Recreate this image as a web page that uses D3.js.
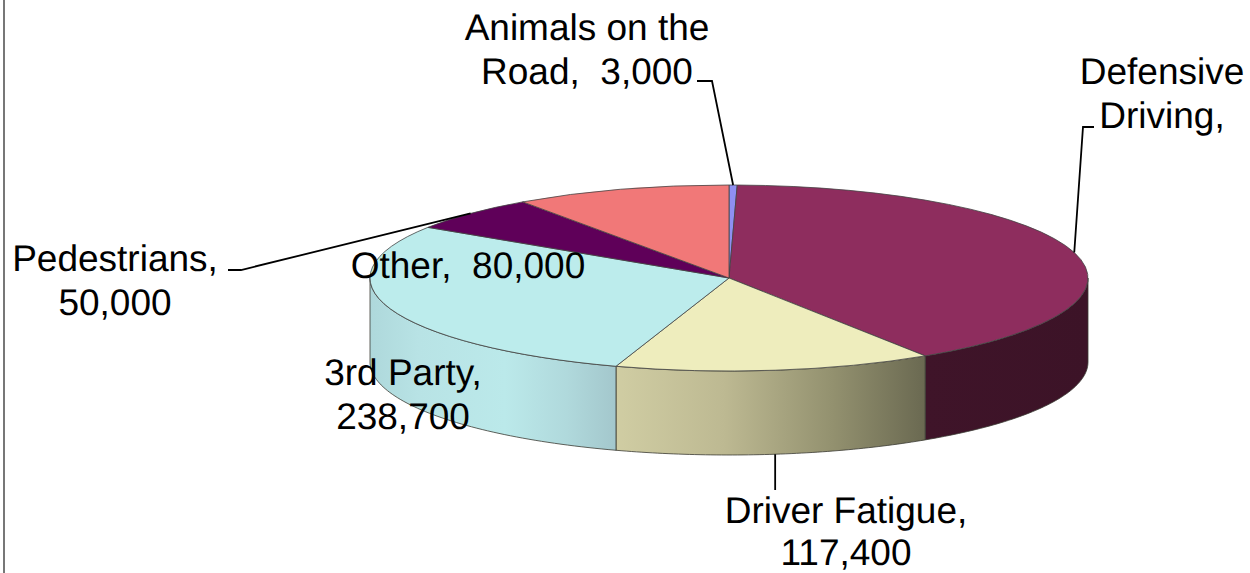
<!DOCTYPE html>
<html>
<head>
<meta charset="utf-8">
<script src="https://cdn.jsdelivr.net/npm/d3@7"></script>
<style>
html,body{margin:0;padding:0;background:#fff;overflow:hidden}
text{font-family:"Liberation Sans",Arial,sans-serif;font-size:37px;fill:#000;white-space:pre;text-rendering:geometricPrecision}
</style>
</head>
<body>
<div id="chart"></div>
<script>
// slices, clockwise from 12 o'clock
var categories = ['Animals on the Road', 'Defensive Driving', 'Driver Fatigue', '3rd Party', 'Pedestrians', 'Other'];
// Defensive Driving value is cut off in the picture, estimated from its angle
var values = [3000, 332000, 117400, 238700, 50000, 80000];
var labelLines = [
    ['Animals on the', 'Road,  3,000'],
    ['Defensive', 'Driving,'],
    ['Driver Fatigue,', '117,400'],
    ['3rd Party,', '238,700'],
    ['Pedestrians,', '50,000'],
    ['Other,  80,000']
];
var topColors = ['#8f8ff2', '#8e2d5e', '#eeedbd', '#bcecec', '#5f0059', '#f17878'];

var w = 1250, h = 573;
var cx = 729, cy = 278, rx = 359, ry = 93, depth = 84;

var svg = d3.select('#chart').append('svg').attr('width', w).attr('height', h).style('display', 'block');
var defs = svg.append('defs');

// wall gradients, left to right
var wallStops = {
    'Defensive Driving': [[0, '#3f1429'], [1, '#3c1327']],
    'Driver Fatigue': [[0, '#d0cda3'], [0.35, '#bdb992'], [0.7, '#93916f'], [1, '#6a6951']],
    '3rd Party': [[0, '#aed8db'], [0.2, '#b8e3e5'], [0.55, '#bbe9ea'], [0.8, '#b0d9dc'], [1, '#a3c7cc']]
};

// left page edge
svg.append('line').attr('x1', 4).attr('y1', 0).attr('x2', 4).attr('y2', h)
    .attr('stroke', '#777').attr('stroke-width', 2);

var pie = d3.pie().sort(null).value(function (d) { return d; });
var slices = pie(values);

function px(a) { return cx + rx * Math.sin(a); }
function py(a) { return cy - ry * Math.cos(a); }

// walls, only the front half of the rim shows
var wallArea = d3.area()
    .x(function (a) { return px(a); })
    .y0(function (a) { return py(a); })
    .y1(function (a) { return py(a) + depth; });

slices.forEach(function (s, i) {
    var a0 = Math.max(s.startAngle, Math.PI / 2);
    var a1 = Math.min(s.endAngle, Math.PI * 1.5);
    if (a1 <= a0) return;
    var n = 60;
    var angles = d3.range(n + 1).map(function (k) { return a0 + (a1 - a0) * k / n; });
    var xs = d3.extent(angles, px);
    var id = 'wall' + i;
    var g = defs.append('linearGradient').attr('id', id)
        .attr('gradientUnits', 'userSpaceOnUse')
        .attr('x1', xs[0]).attr('y1', 0).attr('x2', xs[1]).attr('y2', 0);
    wallStops[categories[i]].forEach(function (st) {
        g.append('stop').attr('offset', st[0]).attr('stop-color', st[1]);
    });
    svg.append('path')
        .attr('d', wallArea(angles))
        .attr('fill', 'url(#' + id + ')')
        .attr('stroke', '#3a3a32')
        .attr('stroke-width', 0.8)
        .attr('stroke-linejoin', 'round');
});

// top face, a flat arc squashed into an ellipse
var arc = d3.arc().innerRadius(0).outerRadius(rx);
svg.append('g')
    .attr('transform', 'translate(' + cx + ',' + cy + ') scale(1,' + (ry / rx) + ')')
    .selectAll('path')
    .data(slices)
    .enter()
    .append('path')
    .attr('d', arc)
    .attr('fill', function (d, i) { return topColors[i]; })
    .attr('stroke', '#444')
    .attr('stroke-width', 0.8)
    .attr('vector-effect', 'non-scaling-stroke')
    .attr('stroke-linejoin', 'round');

// label placement: centre x, first baseline, line step, leader elbow (none = no leader)
var labelPos = [
    {x: 587, y: 40, step: 43.5, elbow: [[697, 81], [712, 81]]},
    {x: 1162, y: 84, step: 43.5, elbow: [[1094, 127], [1083, 127]]},
    {x: 846, y: 522.5, step: 42.5, elbow: [[null, 490]], wall: true},
    {x: 403, y: 385, step: 43.5},
    {x: 115, y: 271, step: 43.5, elbow: [[228, 270], [241, 270]]},
    {x: 468, y: 278, step: 43.5}
];

var line = d3.line();
slices.forEach(function (s, i) {
    var pos = labelPos[i];
    if (!pos.elbow) return;
    var mid = (s.startAngle + s.endAngle) / 2;
    var end = [px(mid), py(mid) + (pos.wall ? depth : 0)];
    var pts = pos.elbow.map(function (p) { return [p[0] === null ? end[0] : p[0], p[1]]; });
    pts.push(end);
    svg.append('path')
        .attr('d', line(pts))
        .attr('fill', 'none')
        .attr('stroke', '#000')
        .attr('stroke-width', 1.8);
});

labelLines.forEach(function (lines, i) {
    var t = svg.append('text').attr('text-anchor', 'middle');
    lines.forEach(function (l, j) {
        t.append('tspan')
            .attr('x', labelPos[i].x)
            .attr('y', labelPos[i].y + j * labelPos[i].step)
            .text(l);
    });
});
</script>
</body>
</html>
